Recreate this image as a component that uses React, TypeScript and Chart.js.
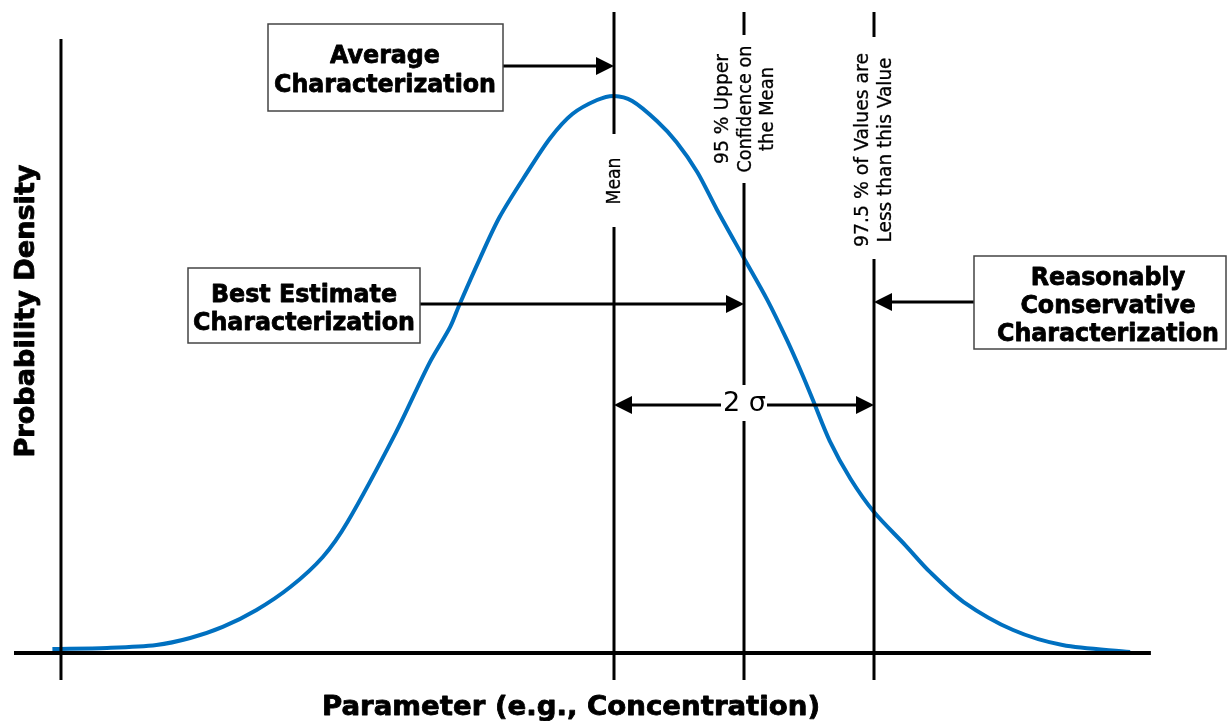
import React, { useEffect, useRef } from "react";
import { Chart, registerables } from "chart.js";

Chart.register(...registerables);

// Curve (x in sigma units from the mean, y = density)
const curveX = [-4.32, -3.9, -3.52, -3.26, -3.01, -2.75, -2.49, -2.24, -2.05, -1.68, -1.42, -1.26, -1.19, -1.03, -0.88, -0.67, -0.49, -0.32, -0.13, 0, 0.14, 0.33, 0.48, 0.64, 0.79, 0.99, 1.18, 1.33, 1.45, 1.53, 1.66, 1.82, 2.0, 2.24, 2.43, 2.69, 3.07, 3.45, 3.97];
const curveY = [0.0029, 0.0036, 0.0057, 0.0107, 0.0186, 0.0307, 0.0471, 0.0686, 0.0936, 0.1571, 0.2071, 0.2329, 0.2486, 0.2821, 0.3114, 0.3429, 0.3679, 0.385, 0.395, 0.3979, 0.3943, 0.38, 0.365, 0.3436, 0.317, 0.2836, 0.2521, 0.2236, 0.1986, 0.1807, 0.1514, 0.1243, 0.1007, 0.0771, 0.0579, 0.0364, 0.0164, 0.0057, 0.0007];

// Reference values (sigma units): mean, 95% UCL, 97.5th percentile
const refX = [0, 1, 2];
const refLabels = [["Mean"], ["95 % Upper", "Confidence on", "the Mean"], ["97.5 % of Values are", "Less than this Value"]];
const boxLabels = [["Average", "Characterization"], ["Best Estimate", "Characterization"], ["Reasonably", "Conservative", "Characterization"]];
const xTitle = "Parameter (e.g., Concentration)";
const yTitle = "Probability Density";
const sigmaLabel = "2 σ";
const yAxisX = -4.254;
const baselineEndX = 4.13;
const xRange = [-4.6, 4.6];
const yRange = [-0.04, 0.46];

const BLUE = "#0070C0";
const FAM = "'DejaVu Sans', Verdana, sans-serif";

const annotate = {
  id: "annotate",
  afterDatasetsDraw(chart: any) {
    const { ctx, scales } = chart;
    const X = (v: number) => scales.x.getPixelForValue(v);
    const Y = (v: number) => scales.y.getPixelForValue(v);
    const line = (x1: number, y1: number, x2: number, y2: number, w = 3) => {
      ctx.beginPath();
      ctx.lineWidth = w;
      ctx.strokeStyle = "#000";
      ctx.moveTo(x1, y1);
      ctx.lineTo(x2, y2);
      ctx.stroke();
    };
    const head = (tx: number, ty: number, dir: number) => {
      ctx.beginPath();
      ctx.fillStyle = "#000";
      ctx.moveTo(tx, ty);
      ctx.lineTo(tx - dir * 18, ty - 9);
      ctx.lineTo(tx - dir * 18, ty + 9);
      ctx.closePath();
      ctx.fill();
    };
    const fit = (font: string, s: string, target: number) => {
      ctx.font = font;
      return target / ctx.measureText(s).width;
    };
    const text = (s: string, x: number, y: number, font: string, sx: number, rot = 0, baseline = "alphabetic", heavy = 0) => {
      ctx.save();
      ctx.translate(x, y);
      if (rot) ctx.rotate(rot);
      ctx.scale(sx, 1);
      ctx.font = font;
      ctx.fillStyle = "#000";
      ctx.textAlign = "center";
      ctx.textBaseline = baseline;
      ctx.fillText(s, 0, 0);
      if (heavy) {
        ctx.lineWidth = heavy;
        ctx.strokeStyle = "#000";
        ctx.lineJoin = "round";
        ctx.strokeText(s, 0, 0);
      }
      ctx.restore();
    };
    ctx.save();
    ctx.lineCap = "butt";
    const x0 = X(refX[0]), x1 = X(refX[1]), x2 = X(refX[2]);
    const base = Y(0);
    // axes
    line(X(yAxisX), 39, X(yAxisX), 680);
    line(14, base, X(baselineEndX), base, 4);
    // reference lines with gaps for labels
    line(x0, 12, x0, 134);
    line(x0, 227, x0, 680);
    line(x1, 12, x1, 35);
    line(x1, 183, x1, 680);
    line(x2, 12, x2, 37);
    line(x2, 259, x2, 680);

    // arrows
    line(503, 66, x0 - 4, 66);
    head(x0, 66, 1);
    line(420, 304, x1 - 4, 304);
    head(x1, 304, 1);
    line(975, 302, x2 + 4, 302);
    head(x2, 302, -1);
    line(x0 + 4, 405, x2 - 4, 405);
    head(x0, 405, -1);
    head(x2, 405, 1);

    // 2 sigma label
    ctx.fillStyle = "#fff";
    ctx.fillRect(721, 385, 46, 36);
    const sigFont = `26px ${FAM}`;
    text(sigmaLabel, (x0 + x2) / 2 + 0.5, 404, sigFont, fit(sigFont, sigmaLabel, 43), 0, "middle");

    // boxes
    const boxes = [
      { l: 268, t: 24, r: 503, b: 111, cx: 385, bl: [63, 92] },
      { l: 188, t: 268, r: 420, b: 343, cx: 304, bl: [302, 330] },
      { l: 974, t: 256, r: 1226, b: 349, cx: 1108, bl: [285, 313, 341] },
    ];
    const boxFont = `bold 25px ${FAM}`;
    const boxSx = fit(boxFont, "Characterization", 222);
    boxes.forEach((bx, i) => {
      ctx.fillStyle = "#fff";
      ctx.fillRect(bx.l, bx.t, bx.r - bx.l, bx.b - bx.t);
      ctx.lineWidth = 1.5;
      ctx.strokeStyle = "#444";
      ctx.strokeRect(bx.l, bx.t, bx.r - bx.l, bx.b - bx.t);
      boxLabels[i].forEach((s, j) => text(s, bx.cx, bx.bl[j], boxFont, boxSx, 0, "alphabetic", 0.8));
    });

    // rotated labels on reference lines (each line fitted to its length in the picture)
    const smallFont = `19px ${FAM}`;
    const vert = [
      { xs: [615.5], cy: 181, lens: [47] },
      { xs: [723, 746, 768], cy: 109, lens: [110, 127, 84] },
      { xs: [863, 886], cy: 150, lens: [194, 185] },
    ];
    vert.forEach((v, i) => {
      refLabels[i].forEach((s, j) =>
        text(s, v.xs[j], v.cy, smallFont, fit(smallFont, s, v.lens[j]), -Math.PI / 2, "middle", 0.3)
      );
    });

    // axis titles
    const xtFont = `bold 26px ${FAM}`;
    text(xTitle, 571, 715, xtFont, fit(xtFont, xTitle, 498), 0, "alphabetic", 0.8);
    const ytFont = `bold 26px ${FAM}`;
    text(yTitle, 27, 311, ytFont, fit(ytFont, yTitle, 293), -Math.PI / 2, "middle", 0.8);
    ctx.restore();
  },
};

export default function App() {
  const ref = useRef<HTMLCanvasElement | null>(null);
  useEffect(() => {
    const canvas = ref.current!;
    const chart = new Chart(canvas, {
      type: "line",
      data: {
        datasets: [
          {
            data: curveX.map((x, i) => ({ x, y: curveY[i] })),
            borderColor: BLUE,
            borderWidth: 4,
            pointRadius: 0,
            tension: 0.3,
            fill: false,
          },
        ],
      },
      options: {
        animation: false,
        responsive: false,
        devicePixelRatio: 1,
        layout: { padding: { left: 16, right: 16, top: 9, bottom: 12 } },
        plugins: { legend: { display: false }, tooltip: { enabled: false } },
        scales: {
          x: { type: "linear", min: xRange[0], max: xRange[1], display: false },
          y: { type: "linear", min: yRange[0], max: yRange[1], display: false },
        },
      },
      plugins: [annotate],
    });
    return () => chart.destroy();
  }, []);
  return (
    <div style={{ position: "fixed", left: 0, top: 0, width: 1228, height: 721, background: "#fff" }}>
      <canvas ref={ref} width={1228} height={721} />
    </div>
  );
}
